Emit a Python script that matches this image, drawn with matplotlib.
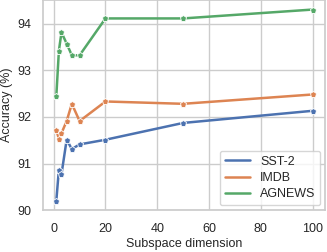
import matplotlib
matplotlib.use("Agg")
import matplotlib.pyplot as plt
import seaborn as sns

dims = [1, 2, 3, 5, 7, 10, 20, 50, 100]
sst2 = [90.20, 90.87, 90.77, 91.51, 91.31, 91.41, 91.51, 91.87, 92.13]
imdb = [91.72, 91.53, 91.65, 91.91, 92.28, 91.91, 92.33, 92.28, 92.48]
agnews = [92.44, 93.42, 93.81, 93.57, 93.32, 93.32, 94.11, 94.11, 94.30]
names = ["SST-2", "IMDB", "AGNEWS"]

sns.set_theme(style="whitegrid")
plt.rcParams['font.family'] = ['Liberation Sans', 'DejaVu Sans']
pal = sns.color_palette("deep")

fig, ax = plt.subplots(figsize=(3.27, 2.52), dpi=100)
for vals, name, c in zip([sst2, imdb, agnews], names, pal):
    ax.plot(dims, vals, color=c, lw=1.8, marker='p', ms=5,
            markeredgecolor='white', markeredgewidth=0.6, label=name)

ax.set_xlabel("Subspace dimension", fontsize=9, labelpad=2)
ax.set_ylabel("Accuracy (%)", fontsize=9, labelpad=3)
ax.tick_params(labelsize=9, pad=3)
ax.set_xticks([0, 20, 40, 60, 80, 100])
ax.set_yticks([90, 91, 92, 93, 94])

from matplotlib.lines import Line2D
handles = [Line2D([0], [0], color=c, lw=1.8) for c in pal[:3]]
ax.legend(handles, names, loc='lower right', fontsize=9, borderaxespad=0.4,
          handlelength=2.0, labelspacing=0.35)

fig.subplots_adjust(left=0.133, right=0.995, top=1.0, bottom=0.165)
fig.savefig("out.png", dpi=100)
